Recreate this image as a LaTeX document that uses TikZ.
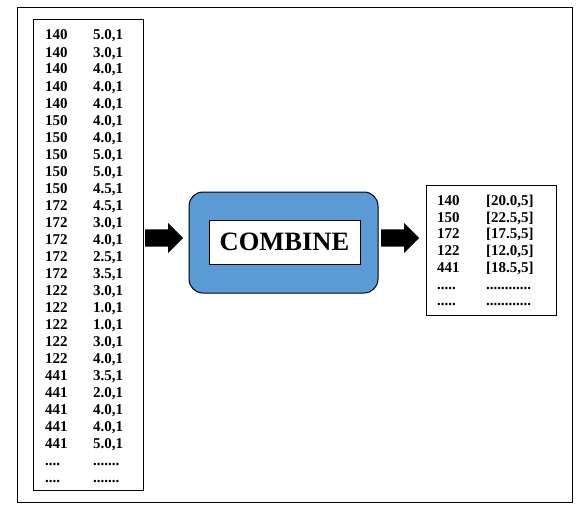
\documentclass[tikz,border=0pt]{standalone}
\usepackage{fontspec}
\setmainfont{Liberation Serif}
\usetikzlibrary{shapes.arrows}
\definecolor{cblue}{HTML}{5B9BD5}
\tikzset{
  frame/.style={draw=black, line width=1pt},
  cell/.style={anchor=base west, inner sep=0pt, font=\fontsize{15pt}{17pt}\selectfont\bfseries},
  blockarrow/.style={single arrow, fill=black, draw=none, inner sep=8.5pt,
    single arrow head extend=6.5pt, minimum height=38pt, anchor=west}
}
\begin{document}
\begin{tikzpicture}[x=1pt,y=-1pt]
\useasboundingbox (0,0) rectangle (588,519);
\draw[frame] (17,8) rectangle (572,502);
% left box
\draw[frame] (33,20) rectangle (143,490);
\foreach \a/\b [count=\i from 0] in {140/{5.0,1},140/{3.0,1},140/{4.0,1},140/{4.0,1},140/{4.0,1},
  150/{4.0,1},150/{4.0,1},150/{5.0,1},150/{5.0,1},150/{4.5,1},
  172/{4.5,1},172/{3.0,1},172/{4.0,1},172/{2.5,1},172/{3.5,1},
  122/{3.0,1},122/{1.0,1},122/{1.0,1},122/{3.0,1},122/{4.0,1},
  441/{3.5,1},441/{2.0,1},441/{4.0,1},441/{4.0,1},441/{5.0,1},
  {....}/{.......},{....}/{.......}}{
  \node[cell] (la\i) at (45,{40+17*\i}) {\a};
  \node[cell] (lb\i) at (93,{40+17*\i}) {\b};
}
% combine
\node[draw=black, line width=1pt, fill=cblue, rounded corners=14pt,
  minimum width=189pt, minimum height=101pt] (comb) at (283.5,242.5) {};
\node[draw=black, line width=1pt, fill=white, minimum width=151pt, minimum height=44pt,
  font=\fontsize{26.5pt}{30pt}\selectfont\bfseries] (combt) at (284.5,242) {COMBINE};
% arrows
\node[blockarrow] (arr1) at (145,238) {};
\node[blockarrow] (arr2) at (381,238) {};
% right box
\draw[frame] (426,185) rectangle (556,315);
\foreach \a/\b [count=\i from 0] in {140/{[20.0,5]},150/{[22.5,5]},172/{[17.5,5]},
  122/{[12.0,5]},441/{[18.5,5]},{.....}/{............},{.....}/{............}}{
  \node[cell] (ra\i) at (437,{205.5+16.7*\i}) {\a};
  \node[cell] (rb\i) at (486,{205.5+16.7*\i}) {\b};
}
\end{tikzpicture}
\end{document}
